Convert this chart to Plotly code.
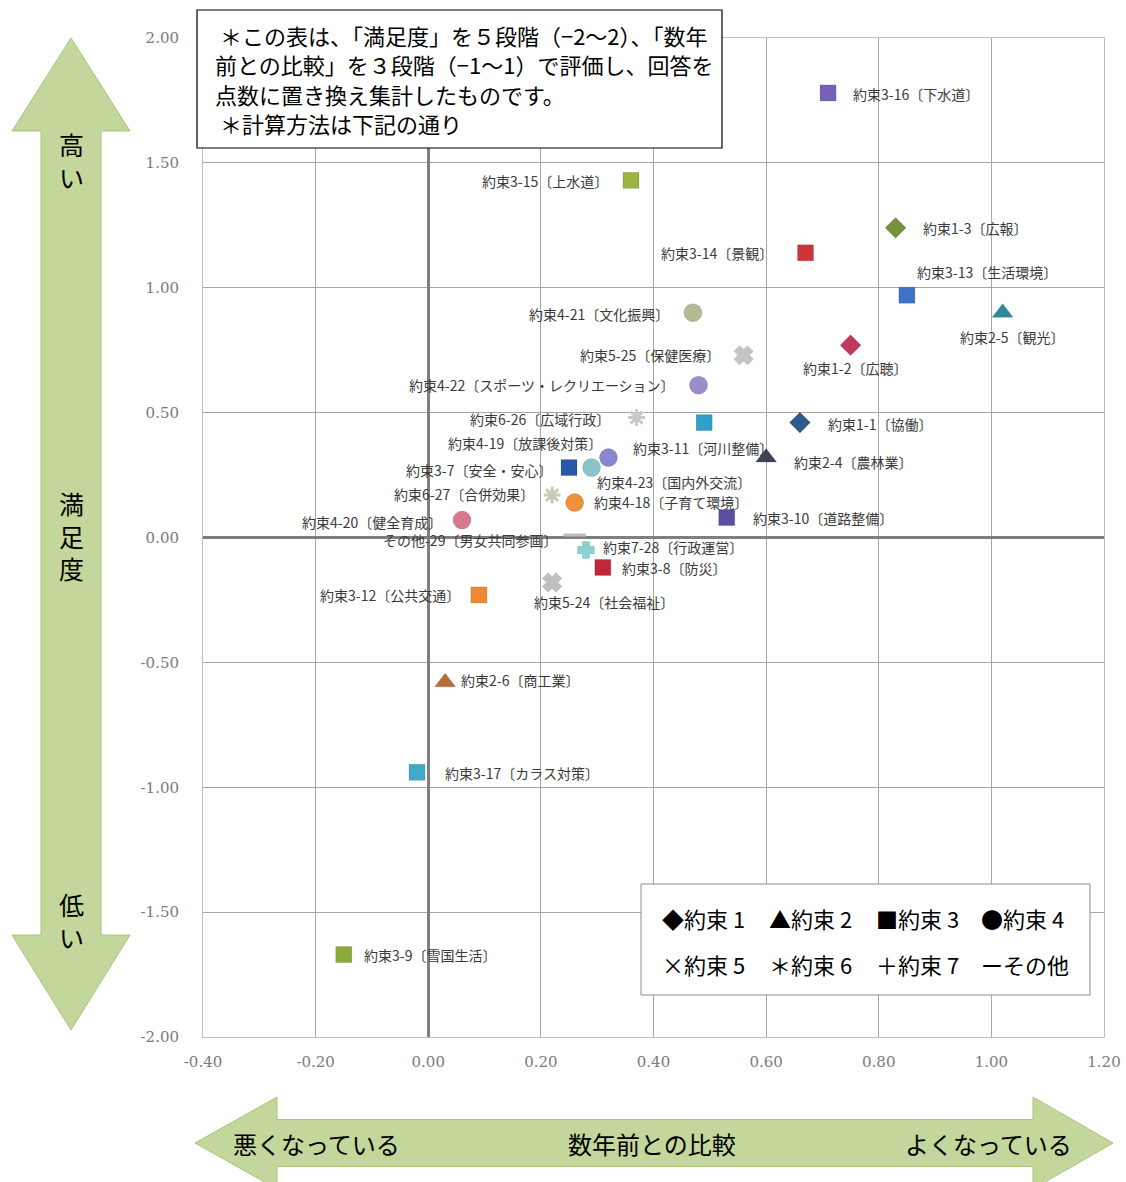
import plotly.graph_objects as go

# ---------------- data ----------------
labels = [
    "約束3-16〔下水道〕", "約束3-15〔上水道〕", "約束1-3〔広報〕", "約束3-14〔景観〕",
    "約束3-13〔生活環境〕", "約束2-5〔観光〕", "約束4-21〔文化振興〕", "約束1-2〔広聴〕",
    "約束5-25〔保健医療〕", "約束4-22〔スポーツ・レクリエーション〕", "約束6-26〔広域行政〕",
    "約束3-11〔河川整備〕", "約束1-1〔協働〕", "約束2-4〔農林業〕", "約束4-19〔放課後対策〕",
    "約束4-23〔国内外交流〕", "約束3-7〔安全・安心〕", "約束6-27〔合併効果〕", "約束4-18〔子育て環境〕",
    "約束3-10〔道路整備〕", "約束4-20〔健全育成〕", "その他-29〔男女共同参画〕", "約束7-28〔行政運営〕",
    "約束3-8〔防災〕", "約束5-24〔社会福祉〕", "約束3-12〔公共交通〕", "約束2-6〔商工業〕",
    "約束3-17〔カラス対策〕", "約束3-9〔雪国生活〕",
]
series = [3, 3, 1, 3, 3, 2, 4, 1, 5, 4, 6, 3, 1, 2, 4, 4, 3, 6, 4, 3, 4, 0, 7, 3, 5, 3, 2, 3, 3]
compare = [0.71, 0.36, 0.83, 0.67, 0.85, 1.02, 0.47, 0.75, 0.56, 0.48, 0.37, 0.49, 0.66, 0.60,
           0.32, 0.29, 0.25, 0.22, 0.26, 0.53, 0.06, 0.26, 0.28, 0.31, 0.22, 0.09, 0.03, -0.02, -0.15]
satisfaction = [1.78, 1.43, 1.24, 1.14, 0.97, 0.90, 0.90, 0.77, 0.73, 0.61, 0.48, 0.46, 0.46, 0.32,
                0.32, 0.28, 0.28, 0.17, 0.14, 0.08, 0.07, 0.01, -0.05, -0.12, -0.18, -0.23, -0.58, -0.94, -1.67]

x_ticks = [-0.4, -0.2, 0.0, 0.2, 0.4, 0.6, 0.8, 1.0, 1.2]
y_ticks = [-2.0, -1.5, -1.0, -0.5, 0.0, 0.5, 1.0, 1.5, 2.0]

legend_row1 = ["◆約束 1", "▲約束 2", "■約束 3", "●約束 4"]
legend_row2 = ["×約束 5", "＊約束 6", "＋約束 7", "ーその他"]
note_lines = [
    " ＊この表は、「満足度」を５段階（−2〜2）、「数年",
    "前との比較」を３段階（−1〜1）で評価し、回答を",
    "点数に置き換え集計したものです。",
    " ＊計算方法は下記の通り",
]

# ---------------- styles ----------------
colors = ["#7661b2", "#9db53f", "#77923c", "#d0343a", "#3d72c8", "#2f8aa0", "#b3bb94", "#c0385c",
          "#c4c4c4", "#9c8ccc", "#c8c8c8", "#2fa0c8", "#2e5a8c", "#40405a", "#8a86d0", "#8cc4cc",
          "#2a58a8", "#c4ccb4", "#f0903a", "#5a4ea0", "#d87890", "#bdbdbd", "#8cd0d0", "#c02838",
          "#c0c0c0", "#f08830", "#b8703a", "#40aac8", "#8caa38"]
symbols = {0: "line-ew-open", 1: "diamond", 2: "triangle-up", 3: "square", 4: "circle",
           5: "x", 6: "asterisk-open", 7: "cross"}
sizes = {0: 16, 1: 16, 2: 18, 3: 16, 4: 18, 5: 14, 6: 14, 7: 12}
# label placement: (xanchor, xshift px, yshift px)
label_pos = [
    ("left", 23, -1), ("right", -21, -1), ("left", 25, 0), ("right", -31, 0),
    ("left", 8, 23), ("left", -45, -24), ("right", -22, -1), ("left", -50, -23),
    ("right", -22, 0), ("right", -22, 0), ("right", -25, -1),
    ("left", -73, -25), ("left", 26, -1), ("left", 26, -4), ("right", -4, 15),
    ("left", 3, -14), ("right", -15, -2), ("right", -16, 1), ("left", 17, 1),
    ("left", 24, 0), ("right", -18, -2), ("right", -16, -5), ("left", 15, 3),
    ("left", 17, -1), ("left", -20, -20), ("right", -17, 0), ("left", 14, 2),
    ("left", 26, -1), ("left", 18, 0),
]

W, H = 1126, 1182
L, R, T, B = 203, 1104, 38, 1037
FONT = "Noto Sans CJK JP"


def px(xp):
    return (xp - L) / (R - L)


def py(yp):
    return (B - yp) / (B - T)


fig = go.Figure()

for s in sorted(set(series)):
    idx = [i for i, v in enumerate(series) if v == s]
    sym = symbols[s]
    cols = [colors[i] for i in idx]
    open_sym = sym.endswith("open") or sym in ("x", "cross")
    fig.add_trace(go.Scatter(
        x=[compare[i] for i in idx], y=[satisfaction[i] for i in idx],
        mode="markers", showlegend=False,
        hovertext=[labels[i] for i in idx],
        marker=dict(symbol=sym, size=sizes[s], color=cols,
                    line=dict(width=3 if open_sym else 0.5,
                              color=cols if open_sym else "rgba(0,0,0,0.25)")),
    ))

annotations = []
for i, lab in enumerate(labels):
    xa, xs, ys = label_pos[i]
    annotations.append(dict(
        x=compare[i], y=satisfaction[i], xref="x", yref="y", text=lab, showarrow=False,
        xanchor=xa, yanchor="middle", xshift=xs, yshift=ys,
        font=dict(family=FONT, size=14, color="#3a3a3a")))

shapes = []
# note box
shapes.append(dict(type="rect", xref="paper", yref="paper", x0=px(197), x1=px(722),
                   y0=py(148), y1=py(10), fillcolor="white", line=dict(color="black", width=1.2),
                   layer="above"))
for k, line in enumerate(note_lines):
    annotations.append(dict(xref="paper", yref="paper", x=px(213), y=py(35 + 29.3 * k),
                            text=line, showarrow=False, xanchor="left", yanchor="middle",
                            font=dict(family=FONT, size=22, color="black")))

# legend box
shapes.append(dict(type="rect", xref="paper", yref="paper", x0=px(641), x1=px(1090),
                   y0=py(995), y1=py(884), fillcolor="white", line=dict(color="#8c8c8c", width=1),
                   layer="above"))
xs_leg = [660, 767, 874, 979]
for k, t in enumerate(legend_row1):
    annotations.append(dict(xref="paper", yref="paper", x=px(xs_leg[k]), y=py(918), text=t,
                            showarrow=False, xanchor="left", yanchor="middle",
                            font=dict(family=FONT, size=22, color="black")))
for k, t in enumerate(legend_row2):
    annotations.append(dict(xref="paper", yref="paper", x=px(xs_leg[k]), y=py(964), text=t,
                            showarrow=False, xanchor="left", yanchor="middle",
                            font=dict(family=FONT, size=22, color="black")))


def poly(points):
    d = "M " + " L ".join(f"{px(a):.5f},{py(b):.5f}" for a, b in points) + " Z"
    return d


ARROW_FILL = "#c3d69b"
ARROW_LINE = "#a9c47f"
# vertical double arrow
vpts = [(71, 38), (130, 131), (101, 131), (101, 935), (130, 935), (71, 1030),
        (12, 935), (41, 935), (41, 131), (12, 131)]
shapes.append(dict(type="path", xref="paper", yref="paper", path=poly(vpts),
                   fillcolor=ARROW_FILL, line=dict(color=ARROW_LINE, width=1), layer="below"))
# horizontal double arrow
hpts = [(195, 1143), (277, 1097), (277, 1119.5), (1033, 1119.5), (1033, 1097), (1113, 1143),
        (1033, 1189), (1033, 1166.5), (277, 1166.5), (277, 1189)]
shapes.append(dict(type="path", xref="paper", yref="paper", path=poly(hpts),
                   fillcolor=ARROW_FILL, line=dict(color=ARROW_LINE, width=1), layer="below"))

for txt, yc in [("高<br>い", 160), ("満<br>足<br>度", 535), ("低<br>い", 920)]:
    annotations.append(dict(xref="paper", yref="paper", x=px(71), y=py(yc), text=txt,
                            showarrow=False, xanchor="center", yanchor="middle",
                            font=dict(family=FONT, size=25, color="black")))
for txt, xc in [("悪くなっている", 316), ("数年前との比較", 652), ("よくなっている", 988)]:
    annotations.append(dict(xref="paper", yref="paper", x=px(xc), y=py(1143), text=txt,
                            showarrow=False, xanchor="center", yanchor="middle",
                            font=dict(family=FONT, size=24, color="black")))

fig.update_layout(
    width=W, height=H, margin=dict(l=L, r=W - R, t=T, b=H - B, pad=0, autoexpand=False),
    paper_bgcolor="white", plot_bgcolor="white",
    shapes=shapes, annotations=annotations, showlegend=False,
)
tick_font = dict(family="DejaVu Serif", size=15, color="#7a7a7a")
fig.update_xaxes(range=[-0.4, 1.2], tickvals=x_ticks, ticktext=[f"{v:.2f}" for v in x_ticks],
                 showgrid=True, gridcolor="#a6a6a6", gridwidth=1,
                 zeroline=True, zerolinecolor="#7f7f7f", zerolinewidth=3,
                 showline=True, linecolor="#bfbfbf", mirror=True, ticks="",
                 automargin=False, ticklabeloverflow="allow",
                 ticklabelstandoff=11, tickfont=tick_font)
fig.update_yaxes(range=[-2, 2], tickvals=y_ticks, ticktext=[f"{v:.2f}" for v in y_ticks],
                 showgrid=True, gridcolor="#a6a6a6", gridwidth=1,
                 zeroline=True, zerolinecolor="#7f7f7f", zerolinewidth=3,
                 showline=True, linecolor="#bfbfbf", mirror=True, ticks="",
                 automargin=False, ticklabeloverflow="allow",
                 ticklabelstandoff=20, tickfont=tick_font)

fig.write_html("out.html", config={"displayModeBar": False},
               post_script="document.body.style.margin='0';")
